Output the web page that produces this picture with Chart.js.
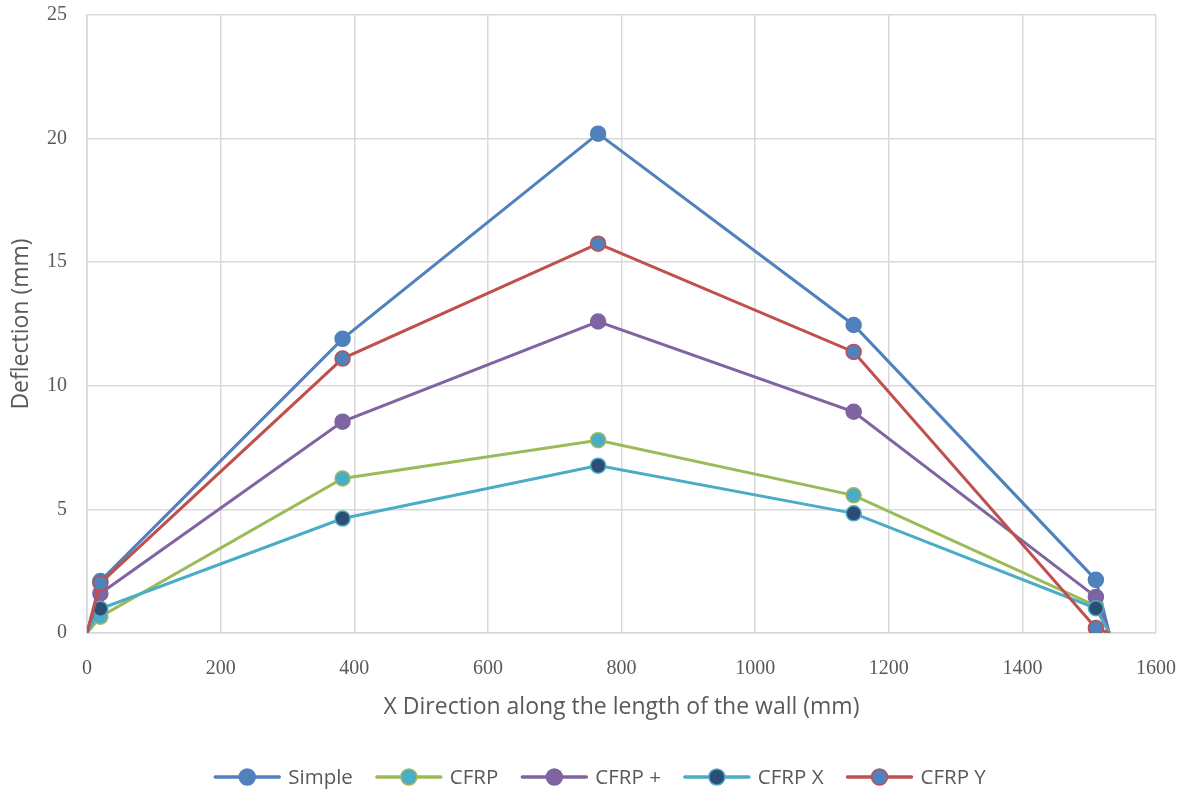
<!DOCTYPE html>
<html>
<head>
<meta charset="utf-8">
<script src="https://cdn.jsdelivr.net/npm/chart.js@4.4.1/dist/chart.umd.min.js"></script>
<style>
  html, body { margin: 0; padding: 0; background: #ffffff; }
  #wrap { width: 1190px; height: 792px; }
</style>
</head>
<body>
<div id="wrap"><canvas id="c" width="1190" height="792"></canvas></div>
<script>
// Measurement positions along the wall (mm)
const positions = [0, 20, 382.5, 765, 1147.5, 1510, 1530];

// Deflection (mm) for each wall configuration
const simple = [0, 2.1, 11.9, 20.2, 12.46, 2.15, 0];
const cfrp   = [0, 0.66, 6.25, 7.8, 5.57, 1.1, 0];
const cfrpPlus = [0, 1.6, 8.55, 12.6, 8.95, 1.46, 0];
const cfrpX  = [0, 0.98, 4.63, 6.77, 4.84, 1.0, 0];
const cfrpY  = [0, 2.02, 11.1, 15.75, 11.37, 0.2, 0];

const seriesNames = ['Simple', 'CFRP', 'CFRP +', 'CFRP X', 'CFRP Y'];

const xTitle = 'X Direction along the length of the wall (mm)';
const yTitle = 'Deflection (mm)';

const styles = [
  { line: '#4F81BD', fill: '#4F81BD', edge: '#4F81BD' },
  { line: '#9BBB59', fill: '#4BACC6', edge: '#9BBB59' },
  { line: '#8064A2', fill: '#8064A2', edge: '#8064A2' },
  { line: '#4BACC6', fill: '#2C4D75', edge: '#4BACC6' },
  { line: '#C0504D', fill: '#4F81BD', edge: '#C0504D' }
];

const values = [simple, cfrp, cfrpPlus, cfrpX, cfrpY];

function toPoints(ys) {
  return positions.map((x, i) => ({ x: x, y: ys[i] }));
}

const gridColor = '#D9D9D9';
const textColor = '#595959';
const sansFont = 'Open Sans';
const serifFont = 'Liberation Serif';

// End points sit on the axis without a marker
const endless = ctx => (ctx.dataIndex === 0 || ctx.dataIndex === positions.length - 1) ? 0 : 7.5;

const datasets = values.map((ys, i) => ({
  label: seriesNames[i],
  data: toPoints(ys),
  borderColor: styles[i].line,
  borderWidth: 3,
  pointBackgroundColor: styles[i].fill,
  pointBorderColor: styles[i].edge,
  pointBorderWidth: 1.5,
  pointRadius: endless,
  pointHoverRadius: endless,
  tension: 0,
  order: values.length - i
}));

// Legend row under the chart: line swatch with marker, then the series name
const lineLegend = {
  id: 'lineLegend',
  afterDraw(chart) {
    const ctx = chart.ctx;
    const sw = 66, gap = 8, spacing = 23, cy = 777;
    ctx.save();
    ctx.font = '20.5px "' + sansFont + '"';
    const widths = chart.data.datasets.map(d => sw + gap + ctx.measureText(d.label).width);
    const total = widths.reduce((a, b) => a + b, 0) + spacing * (widths.length - 1);
    let x = 600 - total / 2;
    chart.data.datasets.forEach((d, i) => {
      const s = styles[i];
      ctx.strokeStyle = s.line; ctx.lineWidth = 3.5; ctx.lineCap = 'round';
      ctx.beginPath(); ctx.moveTo(x + 1, cy); ctx.lineTo(x + sw - 1, cy); ctx.stroke();
      ctx.beginPath(); ctx.arc(x + sw / 2, cy, 8, 0, Math.PI * 2);
      ctx.fillStyle = s.fill; ctx.fill();
      ctx.lineWidth = 1.5; ctx.strokeStyle = s.edge; ctx.stroke();
      ctx.fillStyle = textColor; ctx.textBaseline = 'middle'; ctx.textAlign = 'left';
      ctx.fillText(d.label, x + sw + gap, cy + 1);
      x += widths[i] + spacing;
    });
    ctx.restore();
  }
};

// Fixed axis box sizes, no extra room for overhanging labels
function fixBox(size, key) {
  return s => {
    s[key] = size;
    s.paddingTop = 0; s.paddingBottom = 0; s.paddingLeft = 0; s.paddingRight = 0;
  };
}

new Chart(document.getElementById('c'), {
  type: 'line',
  data: { datasets: datasets },
  plugins: [lineLegend],
  options: {
    responsive: false,
    animation: false,
    layout: { padding: { left: 0, right: 34, top: 15, bottom: 0 } },
    plugins: {
      tooltip: { enabled: false },
      legend: { display: false }
    },
    scales: {
      x: {
        type: 'linear',
        min: 0, max: 1600,
        afterFit: fixBox(159, 'height'),
        ticks: { stepSize: 200, color: textColor, padding: 24, font: { family: serifFont, size: 20 }, callback: v => String(v) },
        grid: { color: gridColor, lineWidth: 1.5, drawTicks: false },
        border: { color: gridColor, width: 1.5 },
        title: { display: true, text: xTitle, color: textColor, font: { family: sansFont, size: 23 }, padding: { top: 0, bottom: 71 } }
      },
      y: {
        min: 0, max: 25,
        afterFit: fixBox(87, 'width'),
        ticks: { stepSize: 5, color: textColor, padding: 20, font: { family: serifFont, size: 20 }, callback: v => String(v) },
        grid: { color: gridColor, lineWidth: 1.5, drawTicks: false },
        border: { color: gridColor, width: 1.5 },
        title: { display: true, text: yTitle, color: textColor, font: { family: sansFont, size: 23 }, padding: { top: 8, bottom: 0 } }
      }
    }
  }
});
</script>
</body>
</html>
